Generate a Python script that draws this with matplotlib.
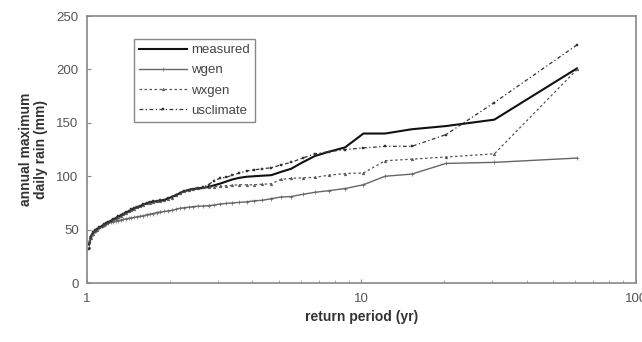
import numpy as np
import matplotlib
matplotlib.use("Agg")
import matplotlib.pyplot as plt
from matplotlib.ticker import LogLocator, NullFormatter

plt.rcParams['font.family'] = ['Liberation Sans', 'DejaVu Sans']

# 60 annual maxima, plotted at return period T = (n + 1) / rank
n_years = 60
rank = np.arange(1, n_years + 1)
return_period = (n_years + 1) / rank

# values listed from rank 1 (largest) to rank 60 (smallest), mm
measured = [201, 153, 147, 144, 140, 140, 127, 123, 119, 113,
            107, 104, 101, 100.5, 100, 99.5, 98.5, 97, 95, 93,
            91.5, 90, 89, 88.5, 88, 87, 86, 84, 82, 80.5,
            79, 77.5, 77, 76.5, 76, 75.5, 74.5, 73.5, 72, 71,
            70, 68.5, 67, 66, 64.5, 63, 62, 60.5, 59.5, 58,
            57, 56, 54.5, 53, 51.5, 50.5, 49, 47, 44, 36]
wgen = [117, 113, 112, 102, 100, 92, 88.5, 86.5, 85, 83,
        81, 80.5, 79, 77.5, 77, 76, 75.5, 75, 74.5, 74,
        73, 72.5, 72, 72, 71.5, 71, 70.5, 70, 69, 68,
        67.5, 67, 66.5, 66, 65, 64.5, 64, 63, 62.5, 62,
        61.5, 61, 60.5, 60, 59.5, 59, 58.5, 58, 57.5, 57,
        56, 55, 54, 53, 51.5, 50.5, 49, 47, 44, 38]
wxgen = [200, 121, 118, 116, 114.5, 103, 102.5, 101, 99, 98.5,
         98, 97, 93, 92.5, 92, 92, 92, 91.5, 91, 90.5,
         90, 90, 89.5, 89, 88.5, 87.5, 86, 84, 82.5, 80,
         79, 78, 77, 76.5, 76, 75, 74.5, 73, 72, 71,
         69.5, 68, 67, 65.5, 64.5, 63, 61.5, 60.5, 59.5, 58,
         57, 56, 54.5, 53, 52, 50, 48.5, 46, 42, 34]
usclimate = [223, 169, 139, 128, 128, 126.5, 125, 123, 121, 117,
             113, 110.5, 108, 107, 106, 105, 103, 101, 99, 98,
             96, 92, 90, 89, 88.5, 87.5, 86.5, 84.5, 82.5, 81,
             79.5, 78, 77.5, 77, 76.5, 76, 75, 74, 72.5, 71.5,
             70.5, 69, 67.5, 66.5, 65, 63.5, 62.5, 61, 60, 58.5,
             57.5, 56.5, 55, 53.5, 52, 51, 49.5, 47.5, 43, 32]

fig = plt.figure(figsize=(6.42, 3.42), dpi=100)
ax = fig.add_axes([0.1355, 0.1725, 0.855, 0.7805])

ax.plot(return_period, measured, color='#111111', lw=1.5, label='measured')
ax.plot(return_period, wgen, color='#666666', lw=1.0, marker='+', ms=2.5,
        mew=0.5, label='wgen')
ax.plot(return_period, wxgen, color='#555555', lw=0.9, ls=(0, (2, 2)),
        marker='^', ms=2, mew=0.3, label='wxgen')
ax.plot(return_period, usclimate, color='#333333', lw=0.9, ls=(0, (3, 2, 1, 2)),
        marker='s', ms=2, mew=0.3, label='usclimate')

ax.set_xscale('log')
ax.set_xlim(1, 100)
ax.set_ylim(0, 250)
ax.set_yticks([0, 50, 100, 150, 200, 250])
ax.set_xticks([1, 10, 100])
ax.set_xticklabels(['1', '10', '100'])
ax.xaxis.set_minor_locator(LogLocator(base=10, subs=np.arange(2, 10)))
ax.xaxis.set_minor_formatter(NullFormatter())

for s in ax.spines.values():
    s.set_color('#888888')
    s.set_linewidth(1.2)
ax.tick_params(axis='both', which='major', colors='#888888', labelcolor='#555555',
               labelsize=9.5, length=3, direction='in')
ax.tick_params(axis='x', which='major', pad=7)
ax.tick_params(axis='y', which='major', pad=6)
ax.tick_params(axis='x', which='minor', colors='#999999', length=2.5, direction='in')

ax.set_xlabel('return period (yr)', fontsize=10, fontweight='bold', color='#333333', labelpad=4)
ax.set_ylabel('annual maximum\ndaily rain (mm)', fontsize=10, fontweight='bold',
              color='#333333', labelpad=6, linespacing=1.1)

leg = ax.legend(loc='upper left', bbox_to_anchor=(0.074, 0.94), fontsize=9.5,
                handlelength=3.6, handletextpad=0.3, borderpad=0.4,
                labelspacing=0.6, fancybox=False, framealpha=1)
leg.get_frame().set_edgecolor('#888888')
leg.get_frame().set_linewidth(1.0)
for t in leg.get_texts():
    t.set_color('#444444')

fig.savefig('out.png', dpi=100)
